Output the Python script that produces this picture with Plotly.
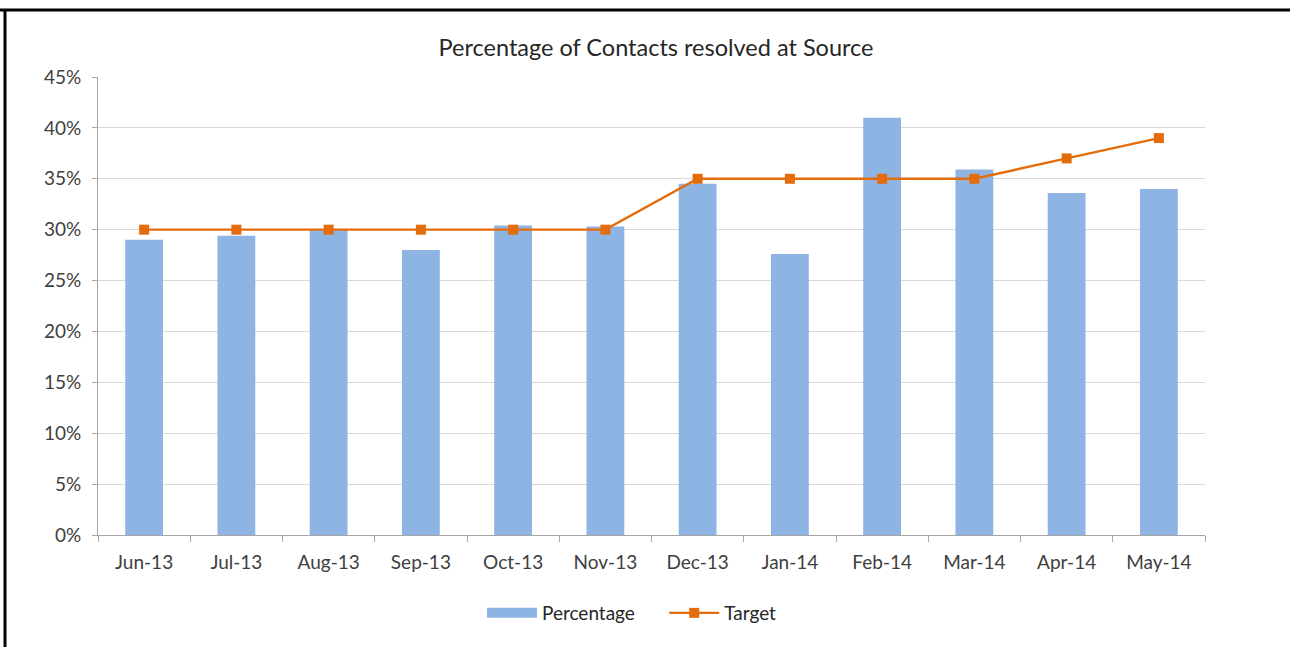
import plotly.graph_objects as go

months = ['Jun-13', 'Jul-13', 'Aug-13', 'Sep-13', 'Oct-13', 'Nov-13',
          'Dec-13', 'Jan-14', 'Feb-14', 'Mar-14', 'Apr-14', 'May-14']
percentage = [0.290, 0.294, 0.300, 0.280, 0.304, 0.303,
              0.345, 0.276, 0.410, 0.359, 0.336, 0.340]
target = [0.30, 0.30, 0.30, 0.30, 0.30, 0.30,
          0.35, 0.35, 0.35, 0.35, 0.37, 0.39]

W, H = 1290, 647
L, R, T, B = 98, 1205, 77, 535  # plot area in pixels

def px_x(x):
    return (x - L) / (R - L)

def px_y(y):
    return (B - y) / (B - T)

fig = go.Figure()

fig.add_trace(go.Bar(x=months, y=percentage, name='Percentage',
                     marker=dict(color='#8eb4e3', line=dict(width=0)),
                     width=0.41, showlegend=False, legendgroup='pct'))

# legend entry drawn as a wide block, like the spreadsheet legend
fig.add_trace(go.Scatter(x=[None], y=[None],
                         name='Percentage' + '\u00a0' * 5,
                         mode='lines', legendgroup='pct',
                         line=dict(color='#8eb4e3', width=10)))

fig.add_trace(go.Scatter(x=months, y=target, name='Target',
                         mode='lines+markers',
                         line=dict(color='#e46c0a', width=2.4),
                         marker=dict(symbol='square', size=10, color='#e46c0a')))

# frame lines around the chart
shapes = [
    dict(type='line', xref='paper', yref='paper',
         x0=px_x(0), x1=px_x(W), y0=px_y(10), y1=px_y(10),
         line=dict(color='black', width=3)),
    dict(type='line', xref='paper', yref='paper',
         x0=px_x(5), x1=px_x(5), y0=px_y(10), y1=px_y(H),
         line=dict(color='black', width=3)),
]

fig.update_layout(
    width=W, height=H,
    margin=dict(l=L, r=W - R, t=T, b=H - B),
    paper_bgcolor='white', plot_bgcolor='white',
    font=dict(family='Lato, Calibri, sans-serif', size=19, color='#404040'),
    title=dict(text='Percentage of Contacts resolved at Source',
               x=px_x(661), xanchor='center', y=1 - 48 / H, yanchor='middle',
               font=dict(size=23.5, color='#262626')),
    bargap=0.59,
    showlegend=True,
    legend=dict(orientation='h', x=px_x(632), xanchor='center',
                y=px_y(613), yanchor='middle', font=dict(size=19, color='#262626'),
                itemwidth=50),
    shapes=shapes,
    xaxis=dict(range=[-0.5, len(months) - 0.5],
               showline=True, linecolor='#a6a6a6', linewidth=1,
               ticks='outside', tickson='boundaries', ticklen=6,
               tickcolor='#a6a6a6', showgrid=False, ticklabelstandoff=10,
               tickfont=dict(size=19, color='#404040')),
    yaxis=dict(range=[0, 0.45], dtick=0.05, tickformat='.0%',
               showline=True, linecolor='#a6a6a6', linewidth=1,
               ticks='outside', ticklen=5, tickcolor='#a6a6a6',
               gridcolor='#d9d9d9', gridwidth=1, zeroline=False,
               ticklabelstandoff=7,
               tickfont=dict(size=19, color='#404040')),
)

fig.write_html('out.html', config={'displayModeBar': False},
               post_script="document.body.style.margin='0px';")
